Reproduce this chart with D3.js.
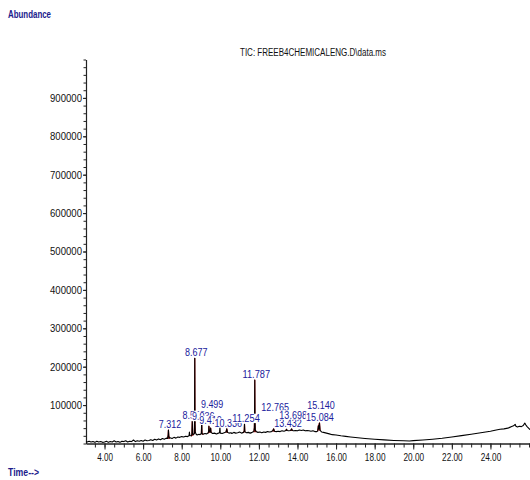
<!DOCTYPE html>
<html>
<head>
<meta charset="utf-8">
<script src="https://cdn.jsdelivr.net/npm/d3@7"></script>
<style>
  html, body { margin: 0; padding: 0; background: #fff; }
  svg { display: block; }
  text { font-family: "Liberation Sans", Arial, sans-serif; }
</style>
</head>
<body>
<svg id="chart" width="530" height="480"></svg>
<script>
// Total ion chromatogram: retention time (min) and abundance (thousands of counts)
const traceTime = [
  3.04, 3.1, 3.2, 3.3, 3.4, 3.5, 3.6, 3.7, 3.8, 3.9, 4.0, 4.1, 4.2, 4.3, 4.4, 4.5, 4.6, 4.7, 4.8, 4.9,
  5.0, 5.1, 5.2, 5.3, 5.4, 5.5, 5.6, 5.7, 5.8, 5.9, 6.0, 6.1, 6.2, 6.3, 6.4, 6.5, 6.6, 6.7, 6.8, 6.9,
  7.0, 7.1, 7.2, 7.27, 7.30, 7.312, 7.33, 7.36, 7.4, 7.5, 7.6, 7.7, 7.8, 7.9, 8.0, 8.1, 8.2, 8.3,
  8.38, 8.40, 8.42, 8.5, 8.53, 8.548, 8.565, 8.6, 8.655, 8.667, 8.677, 8.687, 8.70, 8.75, 8.8, 8.9,
  8.95, 9.02, 9.036, 9.05, 9.1, 9.2, 9.3, 9.38, 9.40, 9.410, 9.43, 9.46, 9.485, 9.499, 9.52, 9.6,
  9.7, 9.8, 9.9, 9.96, 9.98, 10.0, 10.1, 10.2, 10.3, 10.336, 10.37, 10.45, 10.55, 10.6, 10.7, 10.8,
  10.9, 11.0, 11.1, 11.2, 11.24, 11.254, 11.27, 11.35, 11.45, 11.55, 11.65, 11.74, 11.765, 11.777,
  11.787, 11.797, 11.81, 11.85, 11.95, 12.05, 12.15, 12.25, 12.35, 12.45, 12.55, 12.65, 12.72,
  12.765, 12.80, 12.9, 13.0, 13.1, 13.2, 13.3, 13.4, 13.432, 13.46, 13.55, 13.65, 13.698, 13.73,
  13.8, 13.9, 14.0, 14.1, 14.2, 14.3, 14.4, 14.5, 14.6, 14.7, 14.8, 14.9, 15.0, 15.05, 15.084,
  15.11, 15.140, 15.17, 15.25, 15.35, 15.5, 15.65, 15.8, 16.0, 16.25, 16.5, 16.75, 17.0, 17.5,
  18.0, 18.5, 19.0, 19.5, 19.8, 20.0, 20.5, 21.0, 21.5, 22.0, 22.5, 23.0, 23.5, 24.0, 24.3, 24.5,
  24.7, 24.9, 25.0, 25.1, 25.2, 25.28, 25.32, 25.4, 25.5, 25.6, 25.7, 25.78, 25.84, 25.9, 26.0, 26.05
];
const traceAbundance = [
  5, 4, 6, 4, 5, 3, 6, 4, 5, 3, 4, 6, 3, 5, 4, 7, 4, 5, 3, 6,
  5, 7, 4, 6, 5, 9, 5, 7, 6, 8, 6, 9, 7, 8, 10, 8, 11, 9, 12, 10,
  13, 11, 14, 13, 22, 35, 20, 14, 15, 13, 16, 14, 17, 16, 18, 17, 19, 18,
  20, 30, 21, 20, 24, 58, 26, 23, 26, 60, 222, 55, 30, 24, 22, 24,
  23, 26, 55, 26, 24, 26, 25, 28, 34, 45, 33, 30, 34, 40, 29, 26,
  27, 25, 27, 28, 42, 27, 26, 28, 30, 38, 29, 27, 28, 26, 29, 27,
  28, 30, 27, 29, 32, 50, 31, 28, 29, 27, 29, 31, 40, 70,
  165, 60, 36, 31, 29, 30, 28, 30, 29, 31, 30, 31, 33,
  38, 32, 31, 32, 31, 33, 32, 34, 37, 34, 33, 34, 38, 34,
  33, 34, 33, 35, 34, 35, 33, 34, 33, 32, 33, 31, 31, 33, 46,
  38, 53, 34, 30, 29, 27, 25, 23, 22, 20, 18.5, 17, 15.5, 13,
  11, 9.5, 8, 7, 6.5, 7.5, 9, 11, 13.5, 17, 20.5, 24, 28, 32, 35, 37,
  38, 40, 42, 44, 46, 50, 45, 43, 45, 44, 47, 53, 48, 44, 39, 36
];

// Integrated peaks: retention time, apex abundance (thousands), printed label
const peakTime = [7.312, 8.548, 8.677, 9.036, 9.410, 9.499, 10.336, 11.254, 11.787, 12.765, 13.432, 13.698, 15.084, 15.140];
const peakApex = [35, 58, 222, 55, 45, 40, 38, 50, 165, 38, 37, 38, 46, 53];
const peakLabel = ["7.312", "8.548", "8.677", "9.036", "9.410", "9.499", "10.336", "11.254", "11.787", "12.765", "13.432", "13.698", "15.084", "15.140"];

// Axis ticks
const xTickValues = [4, 6, 8, 10, 12, 14, 16, 18, 20, 22, 24];
const xTickLabels = ["4.00", "6.00", "8.00", "10.00", "12.00", "14.00", "16.00", "18.00", "20.00", "22.00", "24.00"];
const yTickValues = [100, 200, 300, 400, 500, 600, 700, 800, 900];
const yTickLabels = ["100000", "200000", "300000", "400000", "500000", "600000", "700000", "800000", "900000"];

// Layout: extra lift (px) for labels stacked above their neighbours
const labelLift = { "9.499": 18, "12.765": 16, "13.698": 8, "15.140": 12, "15.084": 3 };

const svg = d3.select("#chart");
const x = d3.scaleLinear().domain([3.04, 26.05]).range([86, 530]);
const y = d3.scaleLinear().domain([0, 1000]).range([443.5, 59.5]);

const blue = "#20209c";
const pts = traceTime.map((t, i) => [t, traceAbundance[i]]);

// Header texts
svg.append("text").attr("x", 8).attr("y", 17.5)
  .attr("font-size", 10).attr("font-weight", "bold").attr("fill", "#1c1c8c")
  .attr("textLength", 43).attr("lengthAdjust", "spacingAndGlyphs")
  .text("Abundance");
svg.append("text").attr("x", 240).attr("y", 55.5)
  .attr("font-size", 10).attr("fill", "#111")
  .attr("textLength", 146).attr("lengthAdjust", "spacingAndGlyphs")
  .text("TIC: FREEB4CHEMICALENG.D\\data.ms");
svg.append("text").attr("x", 8).attr("y", 476)
  .attr("font-size", 10).attr("font-weight", "bold").attr("fill", "#1c1c8c")
  .attr("textLength", 31).attr("lengthAdjust", "spacingAndGlyphs")
  .text("Time-->");

// Y axis: minor ticks, major ticks with labels
const yMinor = d3.range(0, 1001, 20);
svg.append("g").attr("transform", "translate(86,0)")
  .call(d3.axisLeft(y).tickValues(yMinor).tickSize(2.5).tickSizeOuter(0).tickFormat(""))
  .call(g => g.selectAll("line,path").attr("stroke", "#222"));
const yAx = svg.append("g").attr("transform", "translate(86,0)")
  .call(d3.axisLeft(y).tickValues(yTickValues).tickSize(3).tickSizeOuter(0).tickPadding(1)
    .tickFormat((d, i) => yTickLabels[i]));
yAx.select(".domain").attr("stroke", "#222").attr("stroke-width", 1.2);
yAx.selectAll("line").attr("stroke", "#222");
yAx.selectAll("text").attr("font-size", 10.5).attr("fill", "#111")
  .attr("font-family", "'Liberation Sans', Arial, sans-serif")
  .attr("textLength", 32).attr("lengthAdjust", "spacingAndGlyphs");

// X axis: half-minute ticks and labelled two-minute ticks
const xMinor = d3.range(3.5, 26.01, 0.5);
svg.append("g").attr("transform", "translate(0,443.5)")
  .call(d3.axisBottom(x).tickValues(xMinor).tickSize(4).tickSizeOuter(0).tickFormat(""))
  .call(g => g.selectAll("line,path").attr("stroke", "#222"));
const xAx = svg.append("g").attr("transform", "translate(0,443.5)")
  .call(d3.axisBottom(x).tickValues(xTickValues).tickSize(6).tickSizeOuter(0).tickPadding(4)
    .tickFormat((d, i) => xTickLabels[i]));
xAx.select(".domain").attr("stroke", "#222").attr("stroke-width", 1.2);
xAx.selectAll("line").attr("stroke", "#222");
xAx.selectAll("text").attr("font-size", 11).attr("fill", "#111")
  .attr("font-family", "'Liberation Sans', Arial, sans-serif")
  .attr("textLength", (d, i) => xTickLabels[i].replace(".", "").length * 4.9 + 1)
  .attr("lengthAdjust", "spacingAndGlyphs");

// Integrated peak areas (closed along the integration baseline)
const peakWin = 0.07;
const areaLine = d3.line().x(d => x(d[0])).y(d => y(d[1]));
peakTime.forEach(pt => {
  const seg = pts.filter(d => Math.abs(d[0] - pt) <= peakWin);
  svg.append("path").attr("d", areaLine(seg) + "Z")
    .attr("fill", "#b81818").attr("stroke", "#b81818").attr("stroke-width", 1.2)
    .attr("stroke-linejoin", "round");
});

// Chromatogram trace
svg.append("path").datum(pts)
  .attr("d", d3.line().x(d => x(d[0])).y(d => y(d[1])))
  .attr("fill", "none").attr("stroke", "#000").attr("stroke-width", 1.1)
  .attr("stroke-linejoin", "round");

// Peak retention-time labels, each printed on its own cleared box
const labels = svg.append("g");
peakTime.forEach((pt, i) => {
  const txt = peakLabel[i];
  const len = txt.replace(".", "").length * 5.2 + 1.6;
  const cx = x(pt) + 1.5;
  const base = y(peakApex[i]) - 2 - (labelLift[txt] || 0);
  labels.append("rect")
    .attr("x", cx - len / 2 - 0.5).attr("y", base - 8.6)
    .attr("width", len + 1).attr("height", 9.4).attr("fill", "#fff");
  labels.append("text")
    .attr("x", cx - len / 2).attr("y", base)
    .attr("font-size", 11.5).attr("fill", blue)
    .attr("textLength", len).attr("lengthAdjust", "spacingAndGlyphs")
    .text(txt);
});
</script>
</body>
</html>
